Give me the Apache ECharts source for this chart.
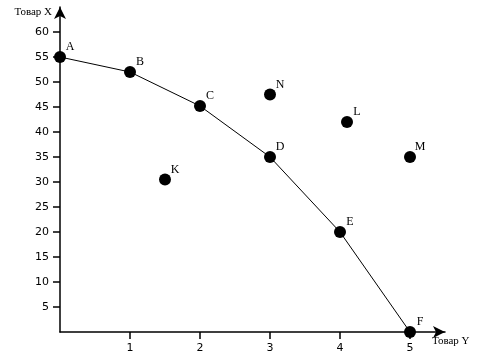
<!DOCTYPE html>
<html><head><meta charset="utf-8">
<script src="https://cdn.jsdelivr.net/npm/echarts@6/dist/echarts.min.js"></script>
<style>html,body{margin:0;padding:0;background:#fff}#c{width:483px;height:359px}</style>
</head><body><div id="c"></div>
<script>
const curveNames = ['A','B','C','D','E','F'];
const curveX = [0,1,2,3,4,5];
const curveY = [55,52,45.2,35,20,0];
const otherNames = ['K','N','L','M'];
const otherX = [1.5,3,4.1,5];
const otherY = [30.5,47.5,42,35];
const xTicks = [1,2,3,4,5];
const yTicks = [5,10,15,20,25,30,35,40,45,50,55,60];

const chart = echarts.init(document.getElementById('c'), null, {renderer:'canvas'});
const lbl = {show:true, position:'inside', offset:[10,-10], formatter: p => p.data.name,
  color:'#000', fontFamily:'Liberation Serif', fontSize:12};
chart.setOption({
  animation:false,
  grid:{left:60, right:38, top:7, bottom:27},
  xAxis:{type:'value', min:0, max:5.5,
    name:'Товар Y', nameLocation:'end', nameGap:-13,
    nameTextStyle:{fontFamily:'Liberation Serif', fontSize:11, color:'#000', align:'left', verticalAlign:'top', padding:[4,0,0,0]},
    axisLine:{lineStyle:{color:'#000', width:1.5}, symbol:['none','arrow'], symbolSize:[9,12]},
    axisTick:{show:true, length:7, customValues:xTicks, lineStyle:{color:'#000', width:1.5}},
    axisLabel:{customValues:xTicks, color:'#000', fontFamily:'DejaVu Sans', fontSize:11, margin:11},
    splitLine:{show:false}},
  yAxis:{type:'value', min:0, max:65,
    name:'Товар X', nameLocation:'end', nameGap:-5,
    nameTextStyle:{fontFamily:'Liberation Serif', fontSize:11, color:'#000', align:'right', verticalAlign:'middle', padding:[0,8,0,0]},
    axisLine:{lineStyle:{color:'#000', width:1.5}, symbol:['none','arrow'], symbolSize:[9,12]},
    axisTick:{show:true, length:7, customValues:yTicks, lineStyle:{color:'#000', width:1.5}},
    axisLabel:{customValues:yTicks, color:'#000', fontFamily:'DejaVu Sans', fontSize:11, margin:11},
    splitLine:{show:false}},
  series:[
    {type:'line', data: curveX.map((x,i)=>({name:curveNames[i], value:[x,curveY[i]]})),
     symbol:'circle', symbolSize:12, lineStyle:{color:'#000', width:1}, itemStyle:{color:'#000', opacity:1},
     label:lbl, z:5},
    {type:'scatter', data: otherX.map((x,i)=>({name:otherNames[i], value:[x,otherY[i]]})),
     symbol:'circle', symbolSize:12, itemStyle:{color:'#000', opacity:1}, label:lbl}
  ]
});
</script></body></html>
